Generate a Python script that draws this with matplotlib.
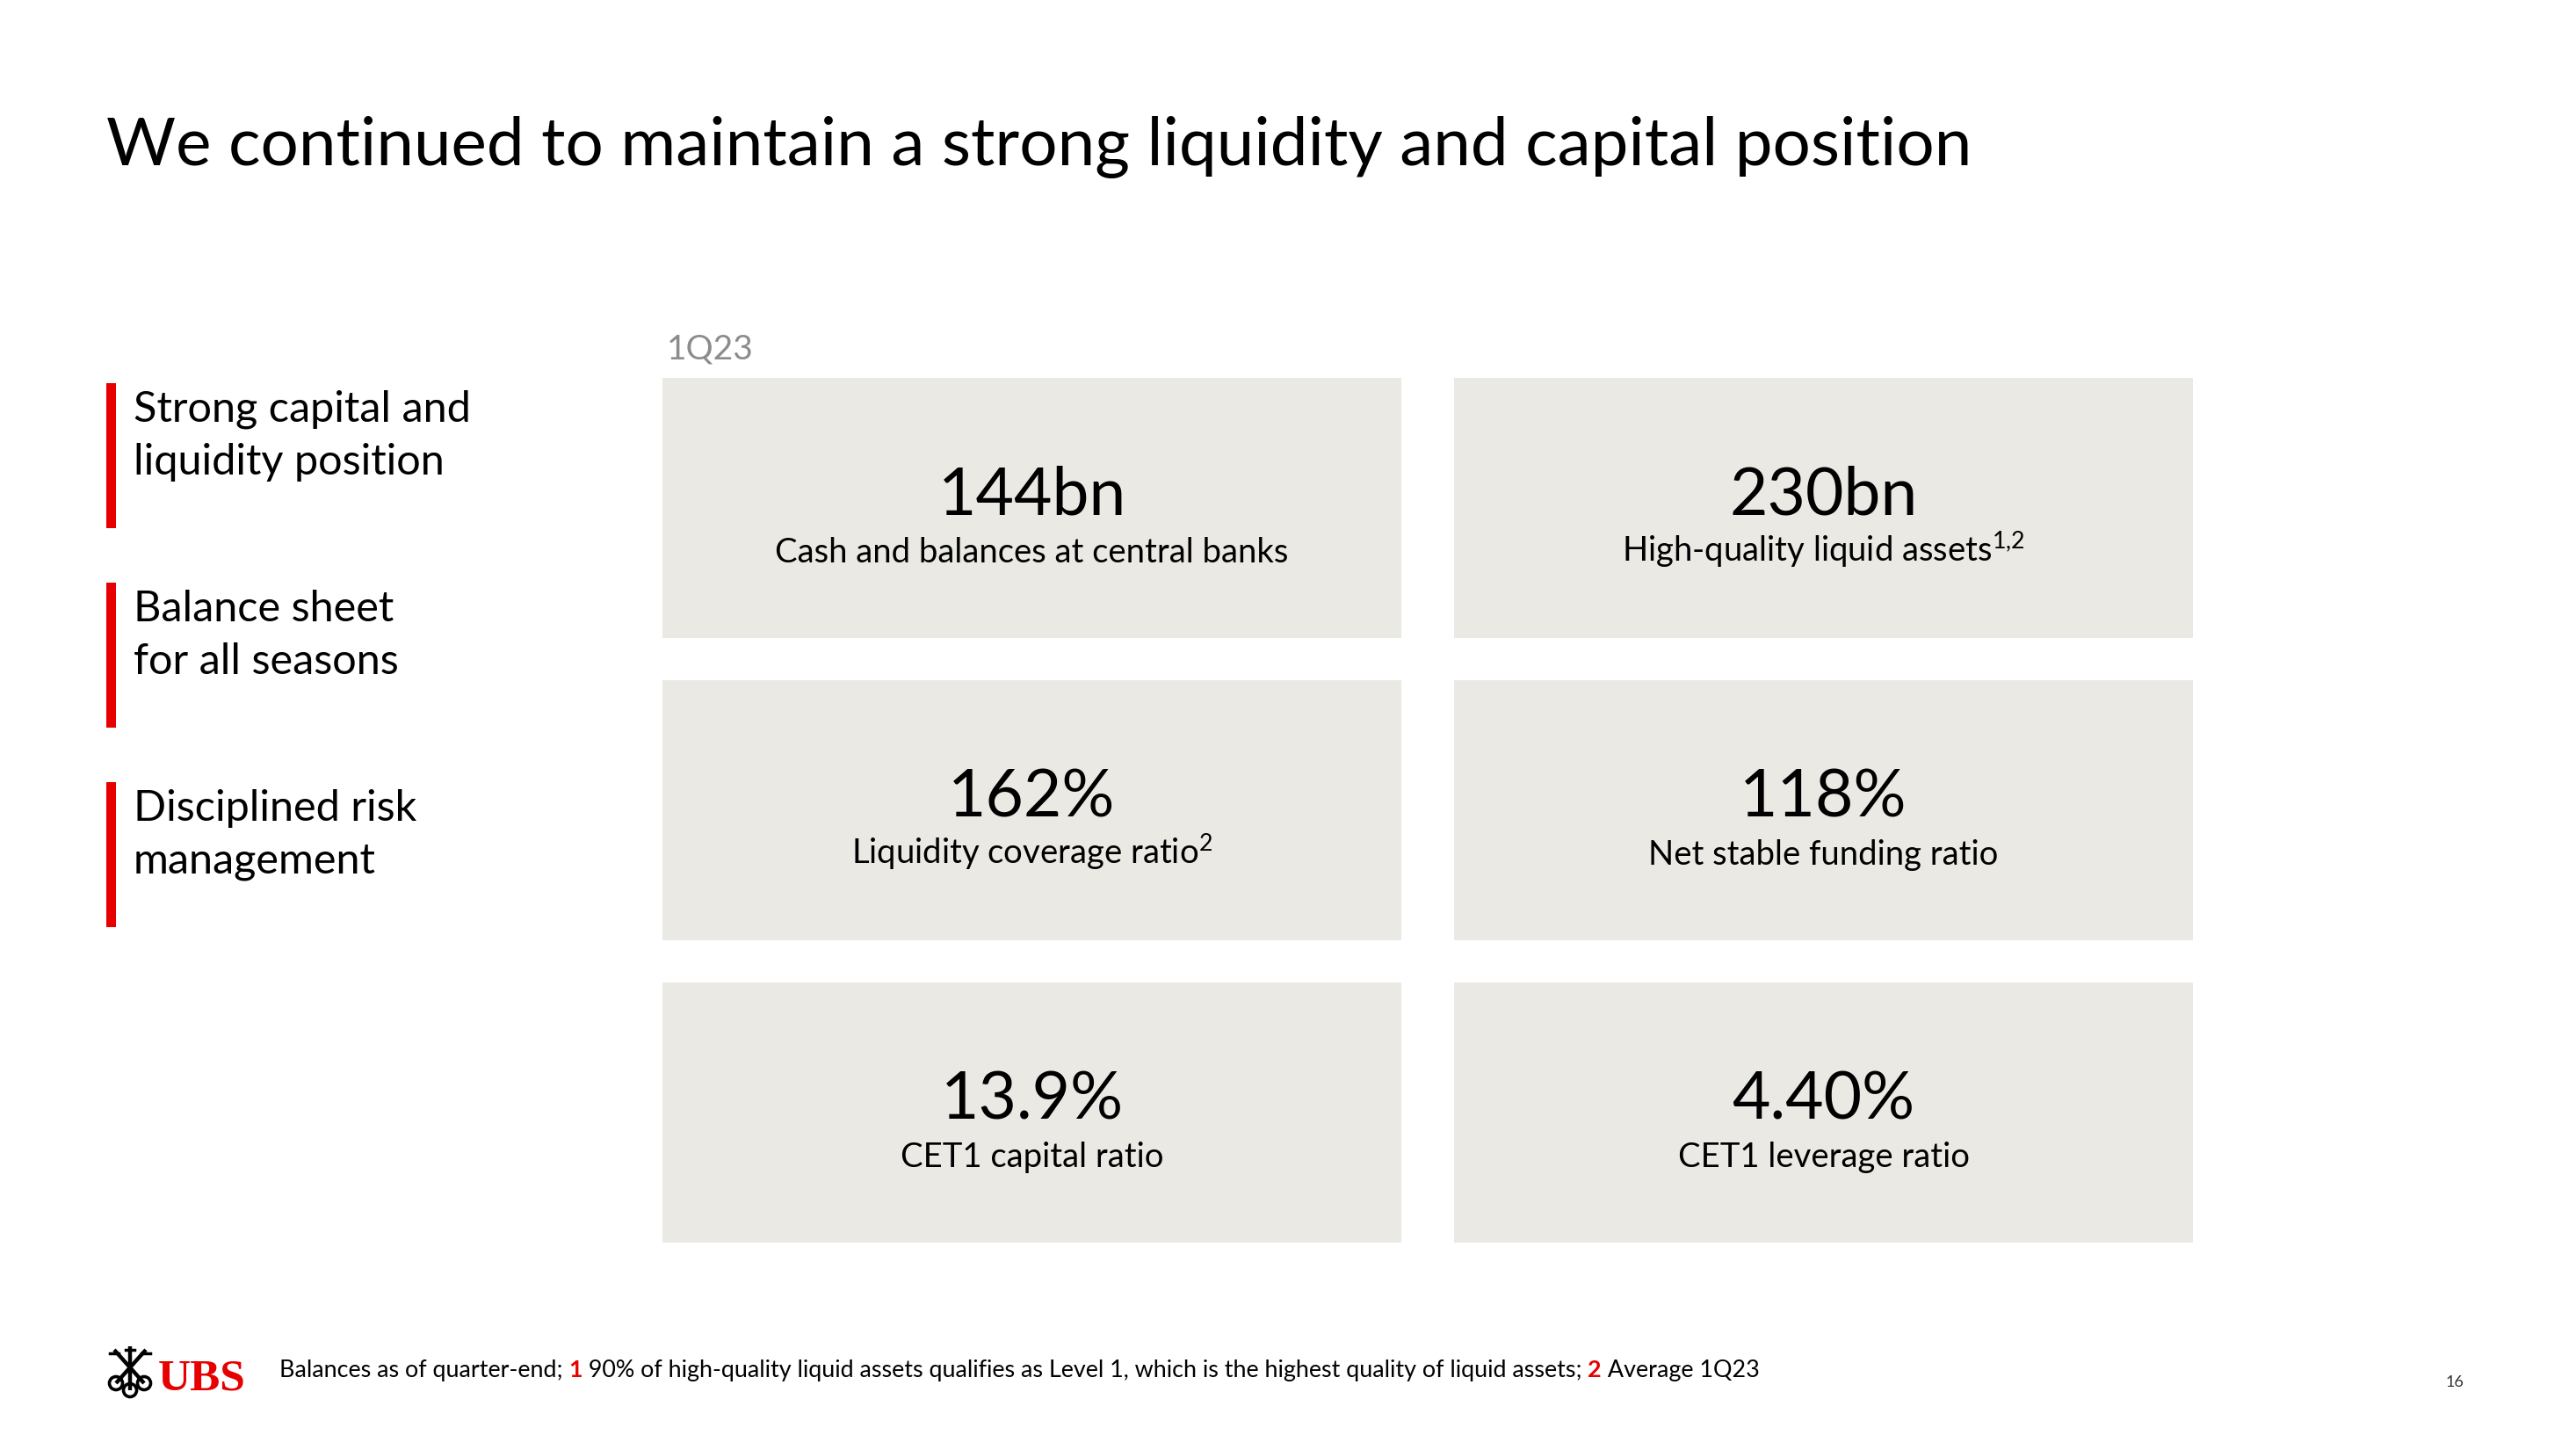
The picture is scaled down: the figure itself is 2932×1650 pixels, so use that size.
import matplotlib
matplotlib.use("Agg")
import matplotlib.pyplot as plt
from matplotlib.patches import Rectangle, Circle

plt.rcParams["font.family"] = ["Lato", "DejaVu Sans"]
plt.rcParams["mathtext.fontset"] = "custom"
plt.rcParams["mathtext.rm"] = "Lato"

W, H = 2932, 1650

TITLE = "We continued to maintain a strong liquidity and capital position"
PERIOD = "1Q23"
PILLARS = [
    "Strong capital and\nliquidity position",
    "Balance sheet\nfor all seasons",
    "Disciplined risk\nmanagement",
]
VALUES = ["144bn", "230bn", "162%", "118%", "13.9%", "4.40%"]
LABELS = [
    "Cash and balances at central banks",
    "High-quality liquid assets",
    "Liquidity coverage ratio",
    "Net stable funding ratio",
    "CET1 capital ratio",
    "CET1 leverage ratio",
]
SUPERSCRIPTS = ["", "1{,}2", "2", "", "", ""]
FOOTNOTE_RUNS = [
    ("Balances as of quarter-end; ", False),
    ("1", True),
    (" 90% of high-quality liquid assets qualifies as Level 1, which is the highest quality of liquid assets; ", False),
    ("2", True),
    (" Average 1Q23", False),
]
PAGE = "16"

RED = "#E60000"
BOX = "#EAE9E4"
TEXT = "#000000"
GREY = "#8C8C8C"

fig = plt.figure(figsize=(W / 100, H / 100), dpi=100, facecolor="white")
ax = fig.add_axes([0, 0, 1, 1])
ax.set_xlim(0, W)
ax.set_ylim(H, 0)
ax.axis("off")

# title
ax.text(121, 188, TITLE, fontsize=55, color=TEXT, va="baseline", ha="left")

# left pillars with red bars
for i, pillar in enumerate(PILLARS):
    top = 436 + i * 227
    ax.add_patch(Rectangle((121, top), 11, 165, facecolor=RED, edgecolor="none"))
    for j, line in enumerate(pillar.split("\n")):
        ax.text(152, 480 + i * 227 + j * 60, line, fontsize=35, color=TEXT,
                va="baseline", ha="left")

# period label
ax.text(759, 408, PERIOD, fontsize=28, color=GREY, va="baseline", ha="left")

# metric boxes, 2 columns x 3 rows
box_w, box_h = 841, 296
for k, (val, lab, sup) in enumerate(zip(VALUES, LABELS, SUPERSCRIPTS)):
    col, row = k % 2, k // 2
    x0 = 754 + col * 901
    y0 = 430 + row * 344
    ax.add_patch(Rectangle((x0, y0), box_w, box_h, facecolor=BOX, edgecolor="none"))
    cx = x0 + box_w / 2
    ax.text(cx, y0 + 155, val, fontsize=54, color=TEXT, ha="center", va="baseline")
    label = lab + (r"$^{\mathrm{" + sup + "}}$" if sup else "")
    ax.text(cx, y0 + 210, label, fontsize=27.5, color=TEXT, ha="center", va="baseline")

# UBS logo: rough keys + wordmark
kc = "#000000"
for (bx, by), (tx, ty) in [((132, 1574), (166, 1536)), ((164, 1574), (130, 1536)), ((148, 1582), (148, 1532))]:
    ax.plot([bx, tx], [by, ty], color=kc, lw=3.2, solid_capstyle="butt")
    ax.add_patch(Circle((bx, by), 7.5, facecolor="white", edgecolor=kc, lw=2.6))
for tx, ty in [(166, 1536), (130, 1536), (148, 1532)]:
    ax.plot([tx - 5, tx + 5], [ty + 4, ty + 4], color=kc, lw=2.5)
ax.text(180, 1581, "UBS", fontsize=37, fontweight="bold", color=RED,
        family="Liberation Serif", va="baseline", ha="left")

# footnote with red markers
fig.canvas.draw()
renderer = fig.canvas.get_renderer()
x = 318
for txt, marker in FOOTNOTE_RUNS:
    t = ax.text(x, 1567, txt, fontsize=19.4, color=RED if marker else TEXT,
                fontweight="bold" if marker else "normal", va="baseline", ha="left")
    bb = t.get_window_extent(renderer=renderer)
    x += bb.width

ax.text(2794, 1578, PAGE, fontsize=13, color="#333333", ha="center", va="baseline")

fig.savefig("out.png", dpi=100, facecolor="white")
